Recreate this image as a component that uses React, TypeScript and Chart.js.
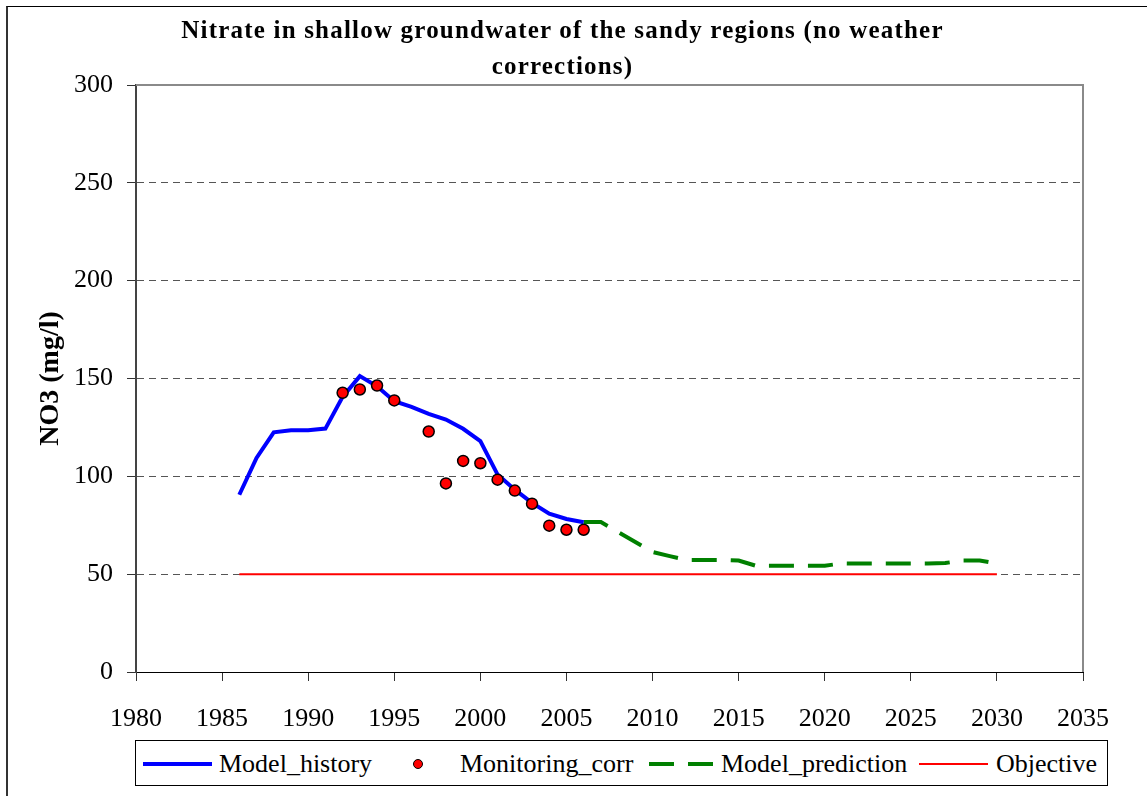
import React, { useEffect, useRef } from "react";
import { Chart, registerables } from "chart.js";

Chart.register(...registerables);

const historyYears = [1986, 1987, 1988, 1989, 1990, 1991, 1992, 1993, 1994, 1995, 1996, 1997, 1998, 1999, 2000, 2001, 2002, 2003, 2004, 2005, 2006];
const historyValues = [90.6, 109.4, 122.5, 123.6, 123.5, 124.4, 140.6, 151.2, 146.0, 138.4, 135.5, 131.9, 129.0, 124.3, 118.0, 100.9, 93.2, 86.4, 80.9, 78.2, 76.5];

const monitoringYears = [1992, 1993, 1994, 1995, 1997, 1998, 1999, 2000, 2001, 2002, 2003, 2004, 2005, 2006];
const monitoringValues = [142.7, 144.4, 146.4, 138.8, 122.9, 96.4, 107.9, 106.7, 98.3, 92.7, 86.0, 74.8, 72.7, 72.7];

const predictionYears = [2006, 2007, 2008, 2009, 2010, 2011, 2012, 2013, 2014, 2015, 2016, 2017, 2018, 2019, 2020, 2021, 2022, 2023, 2024, 2025, 2026, 2027, 2028, 2029, 2030];
const predictionValues = [76.6, 76.6, 71.5, 66.4, 61.3, 59.2, 57.3, 57.3, 57.3, 57.0, 54.3, 54.3, 54.3, 54.3, 54.3, 55.5, 55.4, 55.4, 55.4, 55.4, 55.4, 55.7, 57.0, 57.0, 55.4];

const objectiveYears = [1986, 2030];
const objectiveValues = [50, 50];

const xMin = 1980;
const xMax = 2035;
const xStep = 5;
const yMin = 0;
const yMax = 300;
const yStep = 50;

const titleLines = ["Nitrate in shallow groundwater of the sandy regions (no weather", "corrections)"];
const yTitle = "NO3 (mg/l)";
const legendLabels = ["Model_history", "Monitoring_corr", "Model_prediction", "Objective"];

const SERIF = "'Liberation Serif', 'Times New Roman', serif";

const zip = (xs: number[], ys: number[]) => xs.map((x, i) => ({ x, y: ys[i] }));

const frameBorderPlugin = {
  id: "frameBorder",
  afterDraw(chart: any) {
    const { ctx, chartArea } = chart;
    ctx.save();
    ctx.strokeStyle = "#8a8a8a";
    ctx.lineWidth = 2;
    ctx.beginPath();
    ctx.moveTo(chartArea.left, chartArea.top);
    ctx.lineTo(chartArea.right, chartArea.top);
    ctx.lineTo(chartArea.right, chartArea.bottom);
    ctx.stroke();
    ctx.restore();
  },
};

export default function App() {
  const canvasRef = useRef<HTMLCanvasElement | null>(null);

  useEffect(() => {
    if (!canvasRef.current) return;
    const chart = new Chart(canvasRef.current, {
      type: "scatter",
      data: {
        datasets: [
          {
            label: legendLabels[0],
            data: zip(historyYears, historyValues),
            showLine: true,
            borderColor: "#0000ff",
            borderWidth: 4,
            pointRadius: 0,
            fill: false,
            order: 1,
          },
          {
            label: legendLabels[1],
            data: zip(monitoringYears, monitoringValues),
            showLine: false,
            backgroundColor: "#ff0000",
            borderColor: "#000000",
            borderWidth: 1.5,
            pointRadius: 5.5,
            order: 0,
          },
          {
            label: legendLabels[2],
            data: zip(predictionYears, predictionValues),
            showLine: true,
            borderColor: "#008000",
            borderWidth: 4,
            borderDash: [25, 14],
            pointRadius: 0,
            fill: false,
            order: 2,
          },
          {
            label: legendLabels[3],
            data: zip(objectiveYears, objectiveValues),
            showLine: true,
            borderColor: "#ff0000",
            borderWidth: 2,
            pointRadius: 0,
            fill: false,
            order: 3,
          },
        ],
      },
      options: {
        animation: false,
        responsive: false,
        devicePixelRatio: 1,
        layout: { padding: { left: 0, right: 64, top: 85, bottom: 0 } },
        plugins: {
          legend: { display: false },
          tooltip: { enabled: false },
          title: { display: false },
        },
        scales: {
          x: {
            type: "linear",
            min: xMin,
            max: xMax,
            afterFit: (scale: any) => {
              scale.height = 124;
            },
            ticks: {
              stepSize: xStep,
              color: "#000",
              font: { family: SERIF, size: 26 },
              padding: 23,
              maxRotation: 0,
              callback: (v: any) => String(v),
            },
            grid: {
              drawOnChartArea: false,
              drawTicks: true,
              tickLength: 9,
              tickColor: "#333",
              tickBorderDash: [],
            },
            border: { display: true, color: "#000", width: 1 },
          },
          y: {
            min: yMin,
            max: yMax,
            afterFit: (scale: any) => {
              scale.width = 136;
            },
            ticks: {
              stepSize: yStep,
              color: "#000",
              font: { family: SERIF, size: 26 },
              padding: 14,
            },
            grid: {
              drawTicks: true,
              tickLength: 9,
              tickColor: "#333",
              tickBorderDash: [],
              lineWidth: 1,
              color: (ctx: any) =>
                ctx.tick && (ctx.tick.value === yMin || ctx.tick.value === yMax) ? "rgba(0,0,0,0)" : "#555",
            },
            border: { display: true, color: "#444", width: 2, dash: [7, 5] },
            title: {
              display: true,
              text: yTitle,
              color: "#000",
              font: { family: SERIF, size: 28, weight: "bold" },
              padding: { top: 34, bottom: 0 },
            },
          },
        },
      },
      plugins: [frameBorderPlugin],
    } as any);
    return () => chart.destroy();
  }, []);

  const legendText: React.CSSProperties = {
    position: "absolute",
    top: 751,
    fontFamily: SERIF,
    fontSize: 26,
    lineHeight: "26px",
    color: "#000",
    whiteSpace: "nowrap",
  };

  return (
    <div
      style={{
        position: "fixed",
        left: 0,
        top: 0,
        width: 1147,
        height: 796,
        overflow: "hidden",
        background: "#fff",
      }}
    >
      <div
        style={{
          position: "absolute",
          left: 6,
          top: 6,
          width: 1300,
          height: 1000,
          borderLeft: "2px solid #333",
          borderTop: "1px solid #000",
        }}
      />
      <canvas ref={canvasRef} width={1147} height={796} style={{ position: "absolute", left: 0, top: 0 }} />
      <div
        style={{
          position: "absolute",
          left: 0,
          top: 12,
          width: 1125,
          textAlign: "center",
          fontFamily: SERIF,
          fontWeight: "bold",
          fontSize: 25,
          letterSpacing: "1.2px",
          lineHeight: "36px",
          color: "#000",
        }}
      >
        {titleLines.map((l, i) => (
          <div key={i}>{l}</div>
        ))}
      </div>
      <div
        style={{
          position: "absolute",
          left: 135,
          top: 740,
          width: 971,
          height: 44,
          border: "1px solid #000",
          background: "#fff",
        }}
      />
      <div style={{ position: "absolute", left: 143, top: 762, width: 69, height: 4, background: "#0000ff" }} />
      <span style={{ ...legendText, left: 219 }}>{legendLabels[0]}</span>
      <div
        style={{
          position: "absolute",
          left: 413,
          top: 759,
          width: 8,
          height: 8,
          borderRadius: "50%",
          background: "#ff0000",
          border: "1px solid #000",
        }}
      />
      <span style={{ ...legendText, left: 460 }}>{legendLabels[1]}</span>
      <div style={{ position: "absolute", left: 649, top: 762, width: 25, height: 4, background: "#008000" }} />
      <div style={{ position: "absolute", left: 688, top: 762, width: 25, height: 4, background: "#008000" }} />
      <span style={{ ...legendText, left: 721 }}>{legendLabels[2]}</span>
      <div style={{ position: "absolute", left: 919, top: 763, width: 69, height: 2, background: "#ff0000" }} />
      <span style={{ ...legendText, left: 996 }}>{legendLabels[3]}</span>
    </div>
  );
}
